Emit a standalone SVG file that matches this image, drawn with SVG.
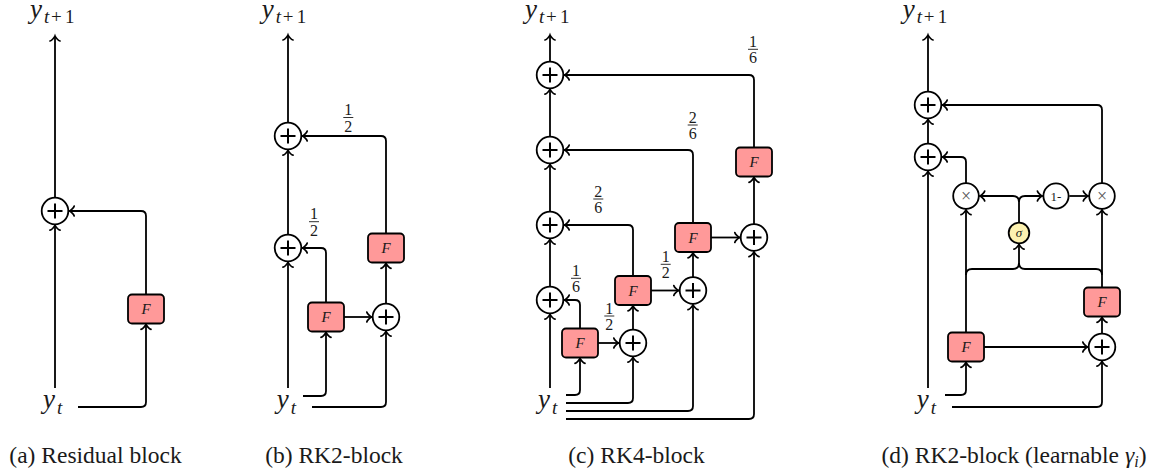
<svg xmlns="http://www.w3.org/2000/svg" width="1163" height="473" viewBox="0 0 1163 473">
<style>
.a{fill:none;stroke:#000;stroke-width:1.8;marker-end:url(#ah)}
.n{fill:none;stroke:#000;stroke-width:1.8}
.pc{fill:#fff;stroke:#000;stroke-width:1.8}
.pl{stroke:#000;stroke-width:2}
.fb{fill:#ff9999;stroke:#000;stroke-width:1.8}
.sg{fill:#fdf2b0;stroke:#000;stroke-width:1.8}
text{font-family:'Liberation Serif','Times New Roman','DejaVu Serif',serif;fill:#1a1a1a}
.ft{font-style:italic;font-size:15px;text-anchor:middle}
.my{font-style:italic;font-size:27px}
.ms{font-size:19px}
.it{font-style:italic}
.fr{font-size:16px;text-anchor:middle}
.bar{stroke:#1a1a1a;stroke-width:0.9}
.cap{font-size:23.5px;text-anchor:middle}
.sm{font-size:13px;text-anchor:middle}
.x{font-size:18px;fill:#555;text-anchor:middle}
</style>
<defs>
<marker id="ah" markerUnits="userSpaceOnUse" markerWidth="14" markerHeight="14" viewBox="-7 -7 14 14" refX="0" refY="0" orient="auto">
<path d="M -5 -5 C -4.6 -3.1 -1.1 -0.4 0 0 C -1.1 0.4 -4.6 3.1 -5 5" fill="none" stroke="#000" stroke-width="1.7" stroke-linecap="round"/>
</marker>
<g id="plus"><circle class="pc" r="13.3"/><line class="pl" x1="-7.5" y1="0" x2="7.5" y2="0"/><line class="pl" x1="0" y1="-7.5" x2="0" y2="7.5"/></g>
</defs>

<g id="connectors">
<path class="a" d="M55 197.7 V36"/>
<path class="a" d="M55 388 V225.2"/>
<path class="a" d="M78 407 H141 Q146 407 146 402 V324.4"/>
<path class="a" d="M146 294.5 V216 Q146 211 141 211 H69.2"/>
<path class="a" d="M288 122.7 V35"/>
<path class="a" d="M288 234.7 V150.2"/>
<path class="a" d="M288 388 V262.2"/>
<path class="a" d="M303 396 H321 Q326 396 326 391 V332.4"/>
<path class="a" d="M312 407 H381 Q386 407 386 402 V331.2"/>
<path class="a" d="M326 302.5 V253 Q326 248 321 248 H302.2"/>
<path class="a" d="M344 317 H371.8"/>
<path class="a" d="M386 303.7 V263.4"/>
<path class="a" d="M386 233.5 V141 Q386 136 381 136 H302.2"/>
<path class="a" d="M550 61.7 V35"/>
<path class="a" d="M550 136.7 V89.2"/>
<path class="a" d="M550 211.7 V164.2"/>
<path class="a" d="M550 286.7 V239.2"/>
<path class="a" d="M550 388 V314.2"/>
<path class="a" d="M566 395 H575 Q580 395 580 390 V358.4"/>
<path class="a" d="M566 403 H628 Q633 403 633 398 V357.2"/>
<path class="a" d="M566 411 H688 Q693 411 693 406 V304.7"/>
<path class="a" d="M566 419 H749 Q754 419 754 414 V251.7"/>
<path class="a" d="M580 328.5 V305 Q580 300 575 300 H564.2"/>
<path class="a" d="M598 343 H618.8"/>
<path class="a" d="M633 329.7 V305.9"/>
<path class="a" d="M633 276 V230 Q633 225 628 225 H564.2"/>
<path class="a" d="M651 290.5 H678.8"/>
<path class="a" d="M693 277.2 V252.9"/>
<path class="a" d="M693 223 V155 Q693 150 688 150 H564.2"/>
<path class="a" d="M711 237.5 H739.8"/>
<path class="a" d="M754 224.2 V177.4"/>
<path class="a" d="M754 147.5 V80 Q754 75 749 75 H564.2"/>
<path class="a" d="M928 91.7 V35"/>
<path class="a" d="M928 143.7 V119.2"/>
<path class="a" d="M928 388 V171.2"/>
<path class="a" d="M945 395 H961 Q966 395 966 390 V362.4"/>
<path class="a" d="M952 407 H1097 Q1102 407 1102 402 V361.2"/>
<path class="a" d="M984 347 H1087.8"/>
<path class="a" d="M1102 333.7 V317.4"/>
<path class="a" d="M966 332.5 V209.7"/>
<path class="a" d="M1102 287.5 V209.7"/>
<path class="a" d="M966 275 Q966 269 972 269 H1013 Q1019 269 1019 263 V244.2"/>
<path class="n" d="M1102 275 Q1102 269 1096 269 H1025 Q1019 269 1019 263"/>
<path class="a" d="M1019 222.7 V202 Q1019 196 1013 196 H979.7"/>
<path class="a" d="M1019 202 Q1019 196 1025 196 H1042.4"/>
<path class="a" d="M1069.3 196 H1088.3"/>
<path class="a" d="M1102 183.2 V110 Q1102 105 1097 105 H942.2"/>
<path class="a" d="M966 183.2 V162 Q966 157 961 157 H942.2"/>
</g>

<g id="labels">
<g transform="translate(348.3,117.5)"><text class="fr" y="-2.5">1</text><line class="bar" x1="-5" x2="5"/><text class="fr" y="14">2</text></g>
<g transform="translate(314,221.7)"><text class="fr" y="-2.5">1</text><line class="bar" x1="-5" x2="5"/><text class="fr" y="14">2</text></g>
<g transform="translate(753,49.3)"><text class="fr" y="-2.5">1</text><line class="bar" x1="-5" x2="5"/><text class="fr" y="14">6</text></g>
<g transform="translate(692.7,125)"><text class="fr" y="-2.5">2</text><line class="bar" x1="-5" x2="5"/><text class="fr" y="14">6</text></g>
<g transform="translate(598.3,199)"><text class="fr" y="-2.5">2</text><line class="bar" x1="-5" x2="5"/><text class="fr" y="14">6</text></g>
<g transform="translate(576,278.3)"><text class="fr" y="-2.5">1</text><line class="bar" x1="-5" x2="5"/><text class="fr" y="14">6</text></g>
<g transform="translate(609.3,316)"><text class="fr" y="-2.5">1</text><line class="bar" x1="-5" x2="5"/><text class="fr" y="14">2</text></g>
<g transform="translate(665.7,264.3)"><text class="fr" y="-2.5">1</text><line class="bar" x1="-5" x2="5"/><text class="fr" y="14">2</text></g>
</g>

<g id="a_out"><text class="my" x="30" y="18">y</text><text class="ms"><tspan class="it" x="44" y="23">t</tspan><tspan x="51" y="23">+</tspan><tspan x="65" y="23">1</tspan></text></g>
<g id="a_in"><text class="my" x="43" y="408">y</text><text class="ms it" x="57" y="414">t</text></g>
<g id="a_add"><use href="#plus" x="55" y="211"/></g>
<g id="a_F"><rect class="fb" x="128" y="294.5" width="36" height="29" rx="4"/><text class="ft" x="146" y="314">F</text></g>
<g id="a_cap"><text class="cap" x="95.5" y="463">(a) Residual block</text></g>

<g id="b_out"><text class="my" x="261.7" y="18">y</text><text class="ms"><tspan class="it" x="275.7" y="23">t</tspan><tspan x="282.7" y="23">+</tspan><tspan x="296.7" y="23">1</tspan></text></g>
<g id="b_in"><text class="my" x="276.7" y="408">y</text><text class="ms it" x="290.7" y="414">t</text></g>
<g id="b_add1"><use href="#plus" x="288" y="136"/></g>
<g id="b_add2"><use href="#plus" x="288" y="248"/></g>
<g id="b_add3"><use href="#plus" x="386" y="317"/></g>
<g id="b_F1"><rect class="fb" x="308" y="302.5" width="36" height="29" rx="4"/><text class="ft" x="326" y="322">F</text></g>
<g id="b_F2"><rect class="fb" x="368" y="233.5" width="36" height="29" rx="4"/><text class="ft" x="386" y="253">F</text></g>
<g id="b_cap"><text class="cap" x="334" y="463">(b) RK2-block</text></g>

<g id="c_out"><text class="my" x="525" y="18">y</text><text class="ms"><tspan class="it" x="539" y="23">t</tspan><tspan x="546" y="23">+</tspan><tspan x="560" y="23">1</tspan></text></g>
<g id="c_in"><text class="my" x="538" y="408">y</text><text class="ms it" x="552" y="414">t</text></g>
<g id="c_add1"><use href="#plus" x="550" y="75"/></g>
<g id="c_add2"><use href="#plus" x="550" y="150"/></g>
<g id="c_add3"><use href="#plus" x="550" y="225"/></g>
<g id="c_add4"><use href="#plus" x="550" y="300"/></g>
<g id="c_add5"><use href="#plus" x="633" y="343"/></g>
<g id="c_add6"><use href="#plus" x="693" y="290.5"/></g>
<g id="c_add7"><use href="#plus" x="754" y="237.5"/></g>
<g id="c_F1"><rect class="fb" x="562" y="328.5" width="36" height="29" rx="4"/><text class="ft" x="580" y="348">F</text></g>
<g id="c_F2"><rect class="fb" x="615" y="276" width="36" height="29" rx="4"/><text class="ft" x="633" y="295.5">F</text></g>
<g id="c_F3"><rect class="fb" x="675" y="223" width="36" height="29" rx="4"/><text class="ft" x="693" y="242.5">F</text></g>
<g id="c_F4"><rect class="fb" x="736" y="147.5" width="36" height="29" rx="4"/><text class="ft" x="754" y="167">F</text></g>
<g id="c_cap"><text class="cap" x="636.5" y="463">(c) RK4-block</text></g>

<g id="d_out"><text class="my" x="902.7" y="18">y</text><text class="ms"><tspan class="it" x="916.7" y="23">t</tspan><tspan x="923.7" y="23">+</tspan><tspan x="937.7" y="23">1</tspan></text></g>
<g id="d_in"><text class="my" x="916.7" y="408">y</text><text class="ms it" x="930.7" y="414">t</text></g>
<g id="d_add1"><use href="#plus" x="928" y="105"/></g>
<g id="d_add2"><use href="#plus" x="928" y="157"/></g>
<g id="d_add3"><use href="#plus" x="1102" y="347"/></g>
<g id="d_mul1"><circle class="pc" cx="966" cy="196" r="12.8"/><text class="x" x="966" y="202">×</text></g>
<g id="d_oneminus"><circle class="pc" cx="1056" cy="196" r="12.6"/><text class="sm" x="1056" y="200.5">1-</text></g>
<g id="d_mul2"><circle class="pc" cx="1102" cy="196" r="12.8"/><text class="x" x="1102" y="202">×</text></g>
<g id="d_sigma"><circle class="sg" cx="1019" cy="233" r="10.3"/><text class="sm it" x="1019" y="237">σ</text></g>
<g id="d_F1"><rect class="fb" x="948" y="332.5" width="36" height="29" rx="4"/><text class="ft" x="966" y="352">F</text></g>
<g id="d_F2"><rect class="fb" x="1084" y="287.5" width="36" height="29" rx="4"/><text class="ft" x="1102" y="307">F</text></g>
<g id="d_cap"><text class="cap" x="1014" y="463">(d) RK2-block (learnable <tspan class="it">γ</tspan><tspan class="it" font-size="16" dy="4">i</tspan><tspan dy="-4">)</tspan></text></g>
</svg>
